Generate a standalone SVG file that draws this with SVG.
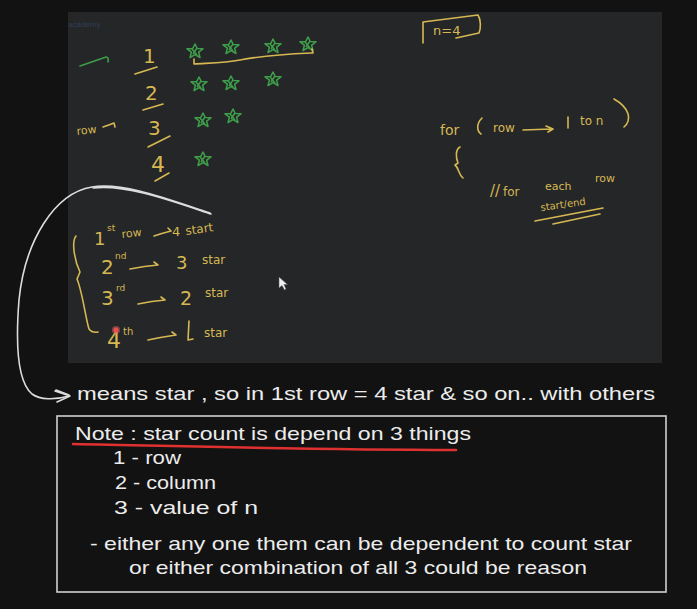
<svg xmlns="http://www.w3.org/2000/svg" width="697" height="609" viewBox="0 0 697 609">
<style>
.hw{fill:#d6b853;font-family:"DejaVu Sans","Noto Sans",sans-serif}
.yl{fill:none;stroke:#d6b853;stroke-width:1.6;stroke-linecap:round;stroke-linejoin:round}
.gr{fill:none;stroke:#3f9e4a;stroke-width:1.5;stroke-linejoin:round}
.ex{fill:#ececec;font-family:"Liberation Sans","DejaVu Sans",sans-serif;font-size:19px}
.wl{fill:none;stroke:#dddddd;stroke-width:1.6;stroke-linecap:round;stroke-linejoin:round}
</style>
<defs>
<g id="star">
<path class="gr" d="M0,-7 L2.2,-2.6 L8,-2.2 L3.6,1.2 L5,6.5 L0,3.6 L-5,6.5 L-3.6,1.2 L-8,-2.2 L-2.2,-2.6 Z M-3,-2 L2,4 M2,-3 L-2,3"/>
</g>
</defs>
<rect x="0" y="0" width="697" height="609" fill="#121212"/>

<g id="whiteboard">
<rect x="68" y="12" width="594" height="351" fill="#252628"/>
<text x="68" y="27" font-family="Liberation Sans,sans-serif" font-size="8" fill="#2f3f52">academy</text>

<g id="left-rows">
<path d="M80,66 L106,57 Q109,57 108,62" fill="none" stroke="#3f9e4a" stroke-width="1.6" stroke-linecap="round"/>
<text class="hw" x="143" y="63" font-size="20">1</text>
<path class="yl" d="M135,74 L157,67"/>
<text class="hw" x="145" y="100" font-size="20">2</text>
<path class="yl" d="M143,110 L163,104"/>
<text class="hw" x="148" y="135" font-size="20">3</text>
<path class="yl" d="M148,147 L170,136"/>
<text class="hw" x="151" y="172" font-size="22">4</text>
<path class="yl" d="M155,181 L169,173"/>
<text class="hw" x="77" y="135" font-size="11" transform="rotate(-6 77 135)">row</text>
<path class="yl" d="M103,127 Q109,125 114,123 L115,127"/>
</g>

<g id="stars">
<use href="#star" x="195" y="51"/>
<use href="#star" x="231" y="47"/>
<use href="#star" x="273" y="46"/>
<use href="#star" x="308" y="44"/>
<path class="yl" d="M194,59 L194,64 C210,63 225,63 240,60 C265,55 290,54 313,53 L312,49"/>
<use href="#star" x="199" y="84"/>
<use href="#star" x="231" y="83"/>
<use href="#star" x="273" y="79"/>
<use href="#star" x="203" y="120"/>
<use href="#star" x="233" y="116"/>
<use href="#star" x="203" y="159"/>
</g>

<g id="n-box">
<path class="yl" d="M423,43 L423,22 L478,15 C481,20 481,28 479,33 L456,38"/>
<text class="hw" x="433" y="35" font-size="13">n=4</text>
</g>

<g id="for-loop">
<text class="hw" x="440" y="135" font-size="14">for</text>
<path class="yl" d="M482,118 C476,124 477,131 481,134"/>
<text class="hw" x="493" y="132" font-size="12">row</text>
<path class="yl" d="M523,130 L551,129 M546,126 L553,129 L548,132"/>
<path class="yl" d="M568,117 L568,128"/>
<text class="hw" x="580" y="125" font-size="12">to n</text>
<path class="yl" d="M614,99 C630,108 632,120 624,127"/>
<path class="yl" d="M460,147 C455,150 456,158 458,163 L455,165 C459,168 458,174 463,178"/>
<text class="hw" x="490" y="196" font-size="15">//</text>
<text class="hw" x="503" y="196" font-size="12">for</text>
<text class="hw" x="545" y="190" font-size="11">each</text>
<text class="hw" x="595" y="182" font-size="11">row</text>
<text class="hw" x="541" y="211" font-size="10" transform="rotate(-8 541 211)">start/end</text>
<path class="yl" d="M535,221 L603,208 M553,224 L600,214"/>
</g>

<g id="star-counts">
<path class="yl" d="M76,236 C71,242 75,262 80,272 L77,279 C82,290 86,320 89,329 Q92,333 98,332"/>
<text class="hw" x="94" y="245" font-size="18">1</text>
<text class="hw" x="107" y="231" font-size="9">st</text>
<text class="hw" x="122" y="238" font-size="11" transform="rotate(-6 122 238)">row</text>
<path class="yl" d="M154,236 Q163,233 171,231 L168,228"/>
<text class="hw" x="172" y="236" font-size="13">4</text>
<text class="hw" x="186" y="235" font-size="12" transform="rotate(-8 186 235)">start</text>

<text class="hw" x="101" y="274" font-size="20">2</text>
<text class="hw" x="115" y="259" font-size="9">nd</text>
<path class="yl" d="M130,269 Q145,266 158,265 L154,262"/>
<text class="hw" x="176" y="269" font-size="18">3</text>
<text class="hw" x="202" y="264" font-size="12">star</text>

<text class="hw" x="101" y="305" font-size="20">3</text>
<text class="hw" x="116" y="291" font-size="9">rd</text>
<path class="yl" d="M138,304 Q152,301 165,300 L161,297"/>
<text class="hw" x="180" y="305" font-size="19">2</text>
<text class="hw" x="205" y="297" font-size="12">star</text>

<text class="hw" x="107" y="348" font-size="22">4</text>
<text class="hw" x="123" y="335" font-size="10">th</text>
<path class="yl" d="M148,340 Q162,337 176,335 L172,332"/>
<path class="yl" d="M189,321 L188,340 L193,339"/>
<text class="hw" x="204" y="337" font-size="12">star</text>
</g>

<circle cx="116" cy="330" r="4" fill="#e0605f" opacity="0.5"/>
<circle cx="116" cy="330" r="2.5" fill="#e8504f"/>
<path d="M279,277 L279,288 L282,285.5 L284.5,290 L286,289 L284,284.5 L287.5,284.5 Z" fill="#f0f0f0" stroke="#555" stroke-width="0.5"/>
</g>

<g id="connectors">
<path class="wl" d="M210,213 C170,200 125,182 92,187 C55,193 25,240 19,300 C15,350 19,383 32,394 C40,400 55,400 69,396"/>
<path class="wl" d="M211,214 C172,201 126,184 93,188"/>
<path class="wl" d="M55,391 L70,396 L57,402 M56,390 L69,395"/>
</g>

<g id="caption">
<text class="ex" x="77" y="400" textLength="578" lengthAdjust="spacingAndGlyphs">means star , so in 1st row = 4 star &amp; so on.. with others</text>
</g>

<g id="note">
<rect x="57" y="416" width="609" height="176" fill="none" stroke="#d0d0d0" stroke-width="1.6"/>
<text class="ex" x="75" y="440" textLength="396" lengthAdjust="spacingAndGlyphs">Note : star count is depend on 3 things</text>
<path d="M73,444 C180,446 300,450 456,450" fill="none" stroke="#e03131" stroke-width="2.5" stroke-linecap="round"/>
<text class="ex" x="113" y="464" textLength="68" lengthAdjust="spacingAndGlyphs">1 - row</text>
<text class="ex" x="115" y="489" textLength="101" lengthAdjust="spacingAndGlyphs">2 - column</text>
<text class="ex" x="114" y="514" textLength="144" lengthAdjust="spacingAndGlyphs">3 - value of n</text>
<text class="ex" x="90" y="550" textLength="542" lengthAdjust="spacingAndGlyphs">- either any one them can be dependent to count star</text>
<text class="ex" x="129" y="574" textLength="458" lengthAdjust="spacingAndGlyphs">or either combination of all 3 could be reason</text>
</g>
</svg>
